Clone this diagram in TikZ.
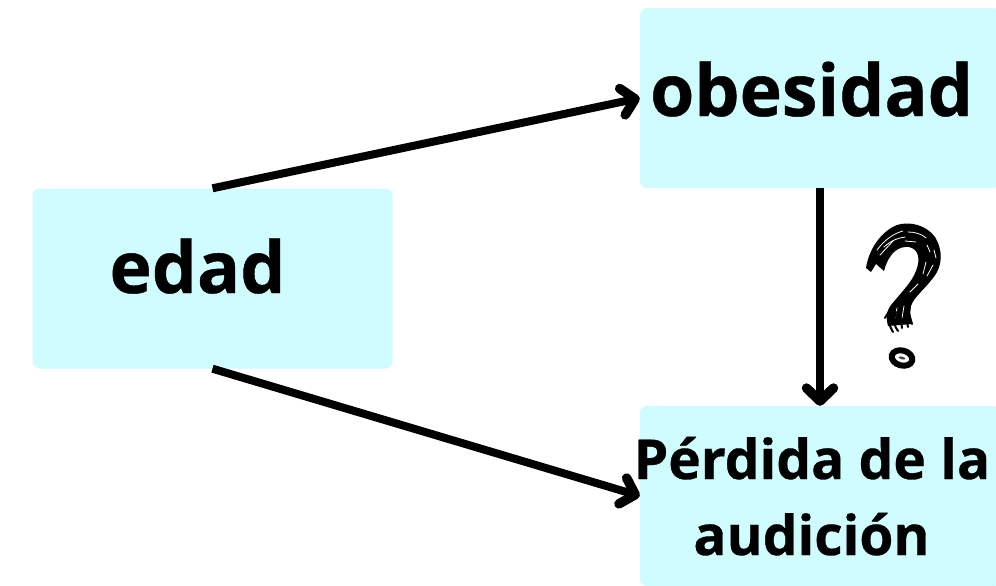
\documentclass[tikz,border=0pt]{standalone}
\usepackage{fontspec}
\setmainfont[BoldFeatures={FakeBold=0.6}]{Open Sans}
\usetikzlibrary{arrows.meta}
\definecolor{boxcyan}{HTML}{CFFCFF}
\tikzset{
  box/.style={fill=boxcyan,rounded corners=7pt,inner sep=0pt,minimum width=#1,minimum height=180pt},
  link/.style={line width=8pt,-{Straight Barb[length=13pt,width=27pt,line cap=round,line join=round,line width=9.5pt]}},
  lab/.style={inner sep=0pt,anchor=base,text=black},
  scrib/.style={line width=0.8pt,white,line cap=round},
  fringe/.style={line width=2pt,black,line cap=round}
}
\begin{document}
\begin{tikzpicture}[x=1pt,y=-1pt]
\useasboundingbox (0,0) rectangle (996,586);
\fill[white] (0,0) rectangle (996,586);
\node[box=360pt] (edad) at (212.5,278.5) {};
\node[box=360pt] (obes) at (820,98) {};
\node[box=360pt] (perd) at (820,496) {};
\node[lab,font=\fontsize{71.5}{72}\selectfont\bfseries] (tedad) at (197.5,293) {edad};
\node[lab,font=\fontsize{71.5}{72}\selectfont\bfseries] (tobes) at (811.5,116) {obesidad};
\node[lab,font=\fontsize{55}{55}\selectfont\bfseries] (tperd) at (812,479) {Pérdida de la};
\node[lab,font=\fontsize{55}{55}\selectfont\bfseries] (taud) at (811.5,555) {audición};
\draw[link] (edad.north) -- (obes.west);
\draw[link] (edad.south) -- (perd.west);
\draw[link] (obes.south) -- (perd.north);
% question mark
\fill[black] (866,268) .. controls (869,248) and (882,231) .. (897,225)
  .. controls (910,221) and (926,225) .. (935,237)
  .. controls (943,250) and (943,266) .. (933,278)
  .. controls (923,291) and (914,297) .. (911,306)
  .. controls (910,314) and (910,318) .. (912,324)
  -- (888,326)
  .. controls (886,318) and (886,312) .. (891,305)
  .. controls (900,294) and (912,282) .. (916,271)
  .. controls (921,258) and (918,249) .. (909,247)
  .. controls (899,246) and (889,252) .. (884,271)
  -- (876,264) -- (871,272) -- cycle;
\draw[scrib] (877,250) .. controls (885,239) and (895,233) .. (903,231);
\draw[scrib] (884,247) .. controls (892,240) and (898,238) .. (905,237);
\draw[scrib] (908,232) .. controls (915,232) and (922,234) .. (926,238);
\draw[scrib] (905,241) -- (916,242);
\draw[scrib] (927,245) -- (930,252);
\draw[scrib] (934,250) -- (936,258);
\draw[scrib] (926,262) -- (923,274);
\draw[scrib] (933,265) -- (927,276);
\draw[scrib] (918,284) -- (910,292);
\draw[scrib] (893,241) -- (880,255);
\draw[scrib] (904,306) -- (902,318);
\draw[scrib] (897,308) -- (895,318);
\draw[fringe] (892,308) .. controls (887,314) and (887,322) .. (893,332);
\draw[fringe] (896,312) .. controls (893,320) and (894,326) .. (898,331);
\draw[fringe] (900,314) -- (902,328);
\draw[fringe] (905,312) -- (908,327);
\draw[fringe] (908,310) -- (912,324);
\draw[fringe] (891,308) -- (885,318);
% dot
\draw[black,line width=6pt,rotate around={-15:(902,358)}] (902,358) ellipse [x radius=10.5,y radius=7.5];
\fill[white,rotate around={-15:(902,358)}] (902,358) ellipse [x radius=6,y radius=3.4];
\fill[black!75,rotate around={-15:(902,358)}] (902,358) ellipse [x radius=3.5,y radius=1.3];
\end{tikzpicture}
\end{document}
